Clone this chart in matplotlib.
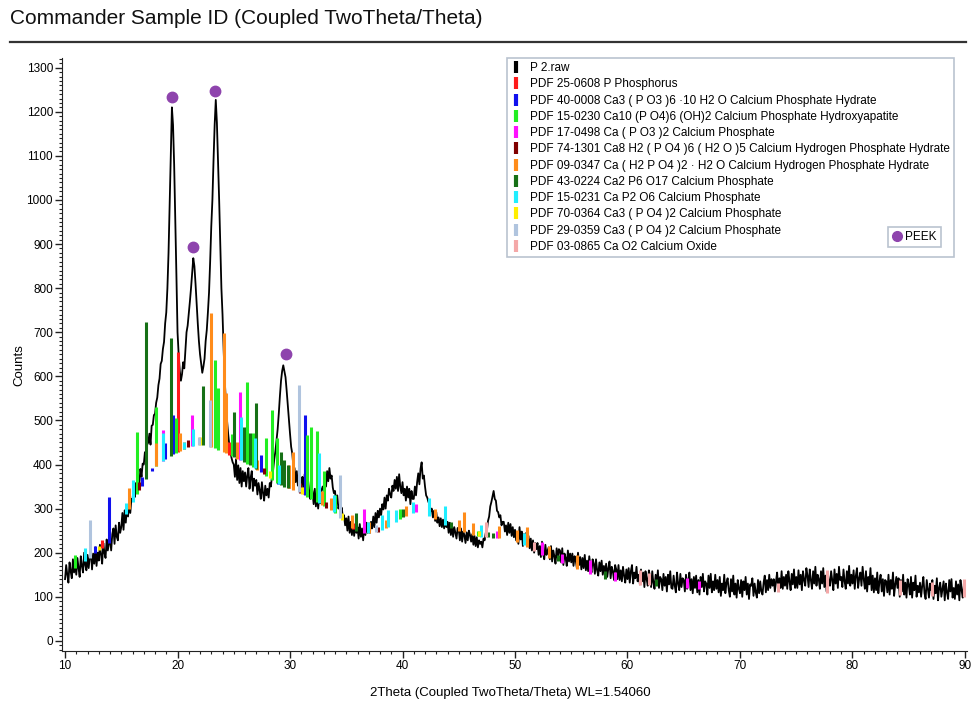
import numpy as np
import matplotlib
matplotlib.use("Agg")
import matplotlib.pyplot as plt
from matplotlib.lines import Line2D
from matplotlib.ticker import MultipleLocator

plt.rcParams['font.family'] = ['Liberation Sans', 'DejaVu Sans']

# measured pattern, 10-90 deg in 0.1 deg steps
two_theta = np.round(np.linspace(10, 90, 801), 1)
counts = [
    140, 172, 150, 132, 178, 158, 142, 185, 155, 175,
    150, 188, 165, 145, 192, 170, 155, 200, 172, 160,
    195, 165, 190, 205, 162, 198, 175, 212, 170, 200,
    182, 218, 195, 175, 222, 200, 188, 230, 205, 220,
    235, 205, 242, 255, 220, 262, 236, 228, 268, 245,
    258, 290, 252, 296, 268, 305, 282, 312, 290, 322,
    322, 345, 326, 358, 340, 372, 355, 390, 372, 402,
    400, 428, 410, 445, 450, 470, 445, 488, 490, 512,
    515, 540, 552, 580, 595, 628, 635, 662, 678, 720,
    745, 800, 880, 990, 1110, 1210, 1170, 1080, 960, 830,
    700, 650, 612, 590, 605, 632, 618, 660, 700, 715,
    742, 770, 800, 835, 868, 850, 810, 765, 720, 680,
    650, 628, 608, 622, 640, 680, 705, 745, 790, 860,
    940, 1000, 1090, 1170, 1227, 1175, 1090, 1000, 900, 800,
    740, 660, 590, 540, 500, 470, 445, 428, 415, 405,
    400, 372, 412, 365, 398, 358, 392, 350, 385, 362,
    382, 350, 375, 392, 345, 370, 385, 340, 368, 352,
    365, 332, 358, 342, 322, 360, 335, 318, 352, 330,
    345, 325, 358, 350, 375, 388, 412, 430, 455, 480,
    515, 555, 590, 612, 625, 612, 598, 568, 535, 500,
    470, 440, 425, 395, 392, 360, 385, 352, 375, 345,
    355, 372, 338, 378, 348, 330, 365, 340, 322, 352,
    338, 310, 345, 305, 335, 300, 328, 312, 342, 350,
    340, 372, 350, 385, 362, 392, 368, 375, 348, 335,
    340, 310, 330, 300, 308, 290, 302, 278, 285, 262,
    278, 250, 282, 245, 270, 240, 268, 238, 262, 245,
    258, 232, 265, 236, 255, 228, 262, 240, 268, 245,
    262, 245, 270, 255, 282, 258, 290, 268, 295, 280,
    300, 285, 310, 298, 325, 300, 330, 318, 345, 332,
    325, 352, 340, 365, 345, 372, 340, 378, 350, 335,
    360, 330, 345, 318, 350, 325, 345, 310, 340, 322,
    322, 350, 330, 360, 380, 355, 390, 405, 368, 375,
    350, 330, 325, 315, 312, 295, 300, 280, 295, 272,
    292, 268, 280, 260, 278, 258, 275, 255, 280, 258,
    270, 245, 268, 240, 262, 236, 258, 245, 232, 256,
    252, 228, 255, 225, 248, 240, 222, 246, 228, 250,
    240, 225, 242, 218, 238, 215, 235, 212, 228, 220,
    225, 212, 232, 228, 245, 250, 272, 282, 305, 315,
    328, 340, 322, 318, 295, 292, 280, 285, 262, 270,
    270, 248, 262, 240, 268, 245, 265, 238, 258, 235,
    252, 228, 245, 220, 258, 230, 248, 215, 242, 225,
    245, 218, 238, 210, 232, 205, 228, 200, 222, 208,
    222, 195, 215, 190, 225, 198, 185, 218, 195, 205,
    212, 185, 215, 180, 205, 192, 175, 210, 188, 208,
    205, 178, 210, 172, 198, 188, 170, 205, 180, 198,
    178, 198, 170, 192, 182, 165, 200, 172, 190, 162,
    188, 165, 195, 160, 182, 158, 192, 170, 155, 185,
    175, 152, 185, 160, 148, 178, 158, 182, 150, 170,
    150, 175, 145, 165, 180, 142, 168, 158, 138, 172,
    162, 140, 172, 138, 160, 135, 168, 148, 132, 162,
    140, 165, 132, 158, 172, 130, 155, 142, 168, 135,
    150, 128, 162, 135, 155, 122, 158, 140, 125, 160,
    145, 122, 158, 132, 118, 150, 128, 160, 120, 145,
    140, 115, 152, 125, 145, 112, 150, 128, 158, 120,
    118, 148, 125, 110, 155, 130, 115, 152, 122, 142,
    138, 112, 150, 118, 135, 155, 115, 140, 108, 145,
    120, 148, 110, 138, 105, 145, 122, 152, 112, 135,
    130, 105, 148, 120, 152, 110, 135, 115, 150, 118,
    138, 110, 145, 102, 130, 115, 150, 108, 132, 142,
    115, 100, 140, 112, 148, 105, 130, 98, 138, 118,
    108, 138, 100, 135, 115, 145, 105, 130, 95, 128,
    125, 142, 102, 130, 110, 98, 138, 108, 135, 112,
    105, 132, 148, 110, 138, 115, 150, 120, 140, 125,
    140, 112, 135, 155, 115, 142, 120, 158, 118, 145,
    125, 150, 118, 158, 135, 115, 152, 128, 162, 120,
    145, 120, 160, 128, 150, 115, 158, 138, 125, 165,
    148, 122, 162, 138, 118, 158, 130, 168, 125, 150,
    140, 118, 158, 130, 165, 122, 148, 112, 155, 135,
    125, 158, 138, 115, 162, 130, 152, 120, 168, 138,
    145, 122, 162, 135, 118, 158, 130, 170, 125, 150,
    130, 160, 118, 148, 165, 120, 142, 155, 125, 168,
    140, 118, 158, 112, 145, 128, 165, 115, 148, 110,
    142, 115, 155, 108, 135, 150, 112, 140, 102, 138,
    135, 110, 150, 105, 138, 118, 155, 102, 128, 145,
    120, 142, 100, 138, 112, 150, 105, 132, 98, 140,
    128, 105, 145, 98, 132, 115, 148, 100, 125, 110,
    132, 100, 125, 145, 108, 95, 138, 118, 98, 130,
    115, 138, 95, 125, 108, 142, 92, 120, 132, 100,
    118, 135, 92, 130, 110, 95, 138, 112, 140, 98,
    120, 95, 135, 105, 128, 92, 138, 115, 98, 130,
    115,
]

# amorphous background the reference sticks stand on
bg_pos = [10, 12, 14, 15, 16, 17, 18, 19, 20, 21, 22, 23, 24, 25, 26, 27, 28, 29, 30,
          31, 32, 33, 34, 35, 36, 37, 38, 39, 40, 41, 42, 43, 44, 45, 46, 47, 48, 50,
          52, 54, 56, 58, 60, 65, 70, 75, 80, 85, 90]
bg_counts = [150, 185, 225, 268, 315, 360, 395, 415, 428, 440, 445, 440, 430, 417, 405,
             390, 372, 355, 345, 335, 320, 305, 290, 262, 248, 244, 248, 262, 280, 292,
             288, 275, 260, 250, 242, 236, 234, 228, 200, 178, 158, 140, 130, 120, 112,
             110, 108, 104, 100]

# reference card sticks (position, top in counts)
p_pos = [13.3, 20.05, 24.6, 29.9, 31.2, 35.6]
p_top = [228, 656, 450, 380, 350, 268]
cpo3_hyd_pos = [12.7, 13.9, 16.8, 17.7, 18.9, 19.6, 27.4, 28.9, 31.3]
cpo3_hyd_top = [215, 327, 372, 392, 449, 512, 422, 392, 512]
hap_pos = [10.85, 16.4, 18.05, 19.9, 20.6, 23.35, 23.6, 24.8, 26.2, 26.7, 27.85, 28.4,
           28.8, 31.55, 31.9, 32.4, 33.0, 34.0, 39.8, 46.7]
hap_top = [195, 474, 531, 505, 445, 637, 573, 470, 588, 471, 460, 524, 460, 467, 484,
           475, 385, 330, 300, 250]
cpo3_pos = [18.7, 21.3, 25.55, 36.6, 41.2, 48.4, 52.4, 54.2, 56.7, 58.9, 65.3, 66.4]
cpo3_top = [478, 512, 565, 300, 310, 250, 225, 198, 184, 157, 142, 135]
oc_pos = [16.6, 20.9, 27.7, 30.9, 33.2, 37.8]
oc_top = [360, 455, 392, 358, 315, 258]
mcpm_pos = [15.65, 18.1, 20.2, 20.6, 22.97, 24.15, 24.3, 25.3, 27.1, 29.9, 30.3, 32.8,
            33.6, 35.5, 37.0, 38.5, 40.3, 42.9, 45.0, 45.5, 46.3, 48.6, 50.2, 51.1,
            53.0, 55.5]
mcpm_top = [346, 449, 471, 452, 744, 698, 562, 450, 410, 400, 429, 340, 325, 285, 270,
            275, 305, 300, 275, 293, 268, 260, 252, 259, 215, 195]
cp6_pos = [17.2, 19.4, 22.3, 25.0, 25.9, 26.4, 27.0, 29.2, 29.5, 29.8, 35.9, 40.0,
           44.3, 47.6, 48.0, 53.8, 58.0, 62.5]
cp6_top = [724, 687, 577, 520, 486, 471, 539, 429, 410, 400, 290, 300, 270, 248, 245,
           195, 158, 140]
cp2_pos = [11.8, 15.4, 16.0, 18.7, 20.6, 21.35, 25.6, 26.9, 29.0, 32.55, 33.9, 36.9,
           38.2, 38.7, 39.4, 40.9, 42.35, 43.8, 47.0, 50.8]
cp2_top = [210, 312, 365, 471, 452, 480, 508, 460, 400, 426, 330, 270, 285, 297, 297,
           316, 324, 305, 263, 245]
tcp1_pos = [13.0, 22.0, 28.2, 31.1, 34.6, 46.8]
tcp1_top = [215, 462, 385, 350, 290, 250]
tcp2_pos = [12.2, 21.9, 22.9, 30.8, 34.4, 37.6]
tcp2_top = [274, 462, 546, 580, 376, 262]
cao2_pos = [47.4, 51.7, 61.1, 61.9, 73.4, 77.7, 84.2, 87.05, 89.95]
cao2_top = [270, 225, 161, 155, 131, 161, 138, 134, 140]

# PEEK markers
peek_pos = [19.5, 21.4, 23.3, 29.6]
peek_counts = [1234, 893, 1248, 650]

labels = [
    "P 2.raw",
    "PDF 25-0608 P Phosphorus",
    "PDF 40-0008 Ca3 ( P O3 )6 \u00b710 H2 O Calcium Phosphate Hydrate",
    "PDF 15-0230 Ca10 (P O4)6 (OH)2 Calcium Phosphate Hydroxyapatite",
    "PDF 17-0498 Ca ( P O3 )2 Calcium Phosphate",
    "PDF 74-1301 Ca8 H2 ( P O4 )6 ( H2 O )5 Calcium Hydrogen Phosphate Hydrate",
    "PDF 09-0347 Ca ( H2 P O4 )2 \u00b7 H2 O Calcium Hydrogen Phosphate Hydrate",
    "PDF 43-0224 Ca2 P6 O17 Calcium Phosphate",
    "PDF 15-0231 Ca P2 O6 Calcium Phosphate",
    "PDF 70-0364 Ca3 ( P O4 )2 Calcium Phosphate",
    "PDF 29-0359 Ca3 ( P O4 )2 Calcium Phosphate",
    "PDF 03-0865 Ca O2 Calcium Oxide",
]
colors = ['#000000', '#ff1a1a', '#1010ee', '#22ee22', '#ff10ff', '#800000', '#ff8c1a',
          '#167016', '#20eeff', '#ffee00', '#b0c4de', '#f4a8a8']

sticks = [(p_pos, p_top), (cpo3_hyd_pos, cpo3_hyd_top), (hap_pos, hap_top),
          (cpo3_pos, cpo3_top), (oc_pos, oc_top), (mcpm_pos, mcpm_top),
          (cp6_pos, cp6_top), (cp2_pos, cp2_top), (tcp1_pos, tcp1_top),
          (tcp2_pos, tcp2_top), (cao2_pos, cao2_top)]

fig = plt.figure(figsize=(9.72, 7.09), dpi=100)
ax = fig.add_axes([62 / 972, 1 - 651 / 709, 905 / 972, 593 / 709])

ax.plot(two_theta, counts, color=colors[0], lw=1.3, zorder=2)
for (pos, top), col in zip(sticks, colors[1:]):
    base = np.interp(pos, bg_pos, bg_counts)
    ax.vlines(pos, base, top, colors=col, lw=2.2, zorder=3)
ax.plot(peek_pos, peek_counts, 'o', color='#8e44ad', ms=7.5, zorder=4)

ax.set_xlim(9.73, 90.18)
ax.set_ylim(-23, 1322)
for s in ['top', 'right']:
    ax.spines[s].set_visible(False)
for s in ['left', 'bottom']:
    ax.spines[s].set_color('#222222')
ax.xaxis.set_major_locator(MultipleLocator(10))
ax.xaxis.set_minor_locator(MultipleLocator(1))
ax.yaxis.set_major_locator(MultipleLocator(100))
ax.yaxis.set_minor_locator(MultipleLocator(10))
ax.tick_params(which='major', direction='out', length=5, width=1, labelsize=8.5, pad=1.5,
               color='#222222')
ax.tick_params(which='minor', direction='out', length=2.5, width=0.8, color='#222222')

ax.set_ylabel("Counts", fontsize=9.5)
ax.yaxis.set_label_coords(-0.040, 0.482)
ax.set_xlabel("2Theta (Coupled TwoTheta/Theta) WL=1.54060", fontsize=9.5)
ax.xaxis.set_label_coords(0.495, -0.061)

handles = [Line2D([], [], color=c, marker='|', ls='none', ms=9, mew=3) for c in colors]
leg = ax.legend(handles, labels, loc='upper left', bbox_to_anchor=(507 / 972, 1 - 58 / 709),
                bbox_transform=fig.transFigure, fontsize=8.5, frameon=True, fancybox=False,
                edgecolor='#a8b4c4', labelspacing=0.36, handlelength=0.8, handletextpad=0.8,
                borderpad=0.35, borderaxespad=0, numpoints=1)
leg.get_frame().set_linewidth(1.2)
ax.add_artist(leg)
peek_h = [Line2D([], [], color='#8e44ad', marker='o', ls='none', ms=7)]
leg2 = ax.legend(peek_h, ["PEEK"], loc='upper left', bbox_to_anchor=(888 / 972, 1 - 227 / 709),
                 bbox_transform=fig.transFigure, fontsize=8.5, frameon=True, fancybox=False,
                 edgecolor='#a8b4c4', handlelength=0.8, handletextpad=0.3, borderpad=0.35,
                 borderaxespad=0)
leg2.get_frame().set_linewidth(1.2)

fig.text(10 / 972, 1 - 18 / 709, "Commander Sample ID (Coupled TwoTheta/Theta)",
         fontsize=15, va='center', ha='left', color='#111111')
fig.add_artist(Line2D([10 / 972, 966 / 972], [1 - 42 / 709, 1 - 42 / 709],
                      color='#333333', lw=1.6))

fig.savefig("out.png", dpi=100)
